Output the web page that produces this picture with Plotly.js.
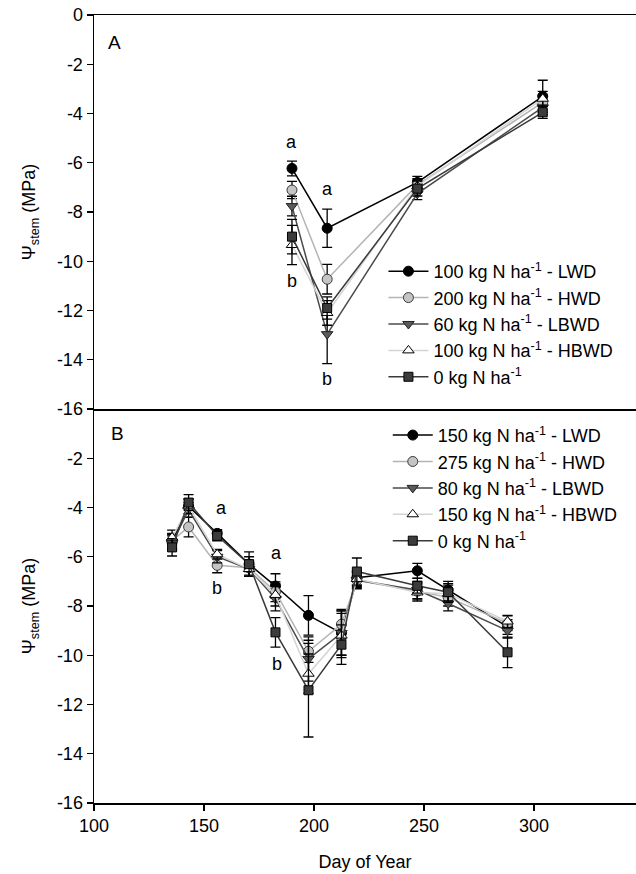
<!DOCTYPE html>
<html>
<head>
<meta charset="utf-8">
<script src="https://cdn.plot.ly/plotly-3.0.1.min.js"></script>
<style>html,body{margin:0;padding:0;background:#fff;}#chart{width:636px;height:874px;}</style>
</head>
<body>
<div id="chart"></div>
<script>
// ---------- Panel A data ----------
const daysA = [190, 206, 247, 304];
const namesA = ["100 kg N ha<sup>-1</sup> - LWD", "200 kg N ha<sup>-1</sup> - HWD", "60 kg N ha<sup>-1</sup> - LBWD", "100 kg N ha<sup>-1</sup> - HBWD", "0 kg N ha<sup>-1</sup>"];
const lwdA  = [-6.23, -8.66, -6.80, -3.30];
const hwdA  = [-7.11, -10.73, -6.90, -3.55];
const lbwdA = [-7.76, -12.96, -7.25, -3.75];
const hbwdA = [-9.34, -12.10, -6.95, -3.40];
const zeroA = [-9.00, -11.90, -7.05, -3.95];
const lwdAerr  = [0.30, 0.78, 0.25, 0.65];
const hwdAerr  = [0.35, 0.60, 0.25, 0.30];
const lbwdAerr = [0.40, 1.20, 0.25, 0.30];
const hbwdAerr = [0.80, 0.50, 0.25, 0.30];
const zeroAerr = [0.70, 0.45, 0.30, 0.25];

// ---------- Panel B data ----------
const daysB = [135.5, 143, 156, 170.5, 182.5, 197.5, 212.5, 219.5, 247, 261, 288];
const namesB = ["150 kg N ha<sup>-1</sup> - LWD", "275 kg N ha<sup>-1</sup> - HWD", "80 kg N ha<sup>-1</sup> - LBWD", "150 kg N ha<sup>-1</sup> - HBWD", "0 kg N ha<sup>-1</sup>"];
const lwdB  = [-5.40, -3.95, -5.05, -6.30, -7.19, -8.38, -9.10, -6.85, -6.57, -7.35, -8.85];
const hwdB  = [-5.35, -4.79, -6.35, -6.45, -7.42, -9.84, -8.74, -6.95, -7.40, -7.65, -8.70];
const lbwdB = [-5.45, -4.10, -6.00, -6.50, -7.70, -10.15, -9.10, -6.95, -7.35, -7.90, -9.00];
const hbwdB = [-5.22, -3.95, -5.90, -6.50, -7.55, -10.75, -9.20, -6.90, -7.45, -7.50, -8.63];
const zeroB = [-5.62, -3.80, -5.15, -6.30, -9.07, -11.42, -9.57, -6.60, -7.18, -7.44, -9.88];
const lwdBerr  = [0.30, 0.30, 0.15, 0.30, 0.50, 0.80, 0.90, 0.30, 0.30, 0.35, 0.30];
const hwdBerr  = [0.30, 0.40, 0.30, 0.30, 0.40, 0.45, 0.60, 0.30, 0.35, 0.35, 0.30];
const lbwdBerr = [0.30, 0.30, 0.25, 0.30, 0.50, 0.90, 0.90, 0.35, 0.35, 0.30, 0.30];
const hbwdBerr = [0.30, 0.30, 0.20, 0.30, 0.45, 0.80, 0.90, 0.30, 0.35, 0.35, 0.25];
const zeroBerr = [0.35, 0.32, 0.20, 0.50, 0.60, 1.90, 0.80, 0.55, 0.30, 0.35, 0.62];

// tick labels
const yTicksA = [0, -2, -4, -6, -8, -10, -12, -14, -16];
const yTicksB = [-2, -4, -6, -8, -10, -12, -14, -16];
const xTicks = [100, 150, 200, 250, 300];

// significance letters
const lettersA = [{x:190,y:-5.15,t:"a"},{x:190,y:-10.8,t:"b"},{x:206,y:-7.05,t:"a"},{x:206,y:-14.8,t:"b"}];
const lettersB = [{x:158,y:-4.0,t:"a"},{x:156,y:-7.26,t:"b"},{x:183,y:-5.85,t:"a"},{x:183,y:-10.35,t:"b"}];

// ---------- styles ----------
const styles = [
  {line:'#000000', sym:'circle', fill:'#000000', edge:'#000000'},
  {line:'#b4b4b4', sym:'circle', fill:'#c4c4c4', edge:'#3a3a3a'},
  {line:'#4a4a4a', sym:'triangle-down', fill:'#5a5a5a', edge:'#222222'},
  {line:'#d4d4d4', sym:'triangle-up', fill:'#ffffff', edge:'#000000'},
  {line:'#3a3a3a', sym:'square', fill:'#3c3c3c', edge:'#000000'}
];
const FONT = 'Liberation Sans, Arial, sans-serif';
const FS = 18;

function mk(x, y, err, name, st, xa, ya, leg) {
  return {
    type: 'scatter', mode: 'lines+markers', x: x, y: y, name: name,
    xaxis: xa, yaxis: ya, legend: leg,
    line: {color: st.line, width: 1.5},
    marker: {symbol: st.sym, size: st.sym === 'square' ? 9 : 10, color: st.fill, line: {color: st.edge, width: 1}},
    error_y: {type: 'data', array: err, visible: true, color: '#000000', thickness: 1.3, width: 5},
    cliponaxis: false
  };
}

const A = [lwdA, hwdA, lbwdA, hbwdA, zeroA];
const Ae = [lwdAerr, hwdAerr, lbwdAerr, hbwdAerr, zeroAerr];
const B = [lwdB, hwdB, lbwdB, hbwdB, zeroB];
const Be = [lwdBerr, hwdBerr, lbwdBerr, hbwdBerr, zeroBerr];

const traces = [];
for (let i = 0; i < 5; i++) traces.push(mk(daysA, A[i], Ae[i], namesA[i], styles[i], 'x2', 'y', 'legend'));
for (let i = 0; i < 5; i++) traces.push(mk(daysB, B[i], Be[i], namesB[i], styles[i], 'x', 'y2', 'legend2'));

const annotations = [];
lettersA.forEach(l => annotations.push({x:l.x, y:l.y, xref:'x2', yref:'y', text:l.t, showarrow:false, font:{family:FONT,size:FS,color:'#000'}}));
lettersB.forEach(l => annotations.push({x:l.x, y:l.y, xref:'x', yref:'y2', text:l.t, showarrow:false, font:{family:FONT,size:FS,color:'#000'}}));
annotations.push({x:109.1, y:-1.1, xref:'x2', yref:'y', text:'A', showarrow:false, font:{family:FONT,size:FS+1,color:'#000'}});
annotations.push({x:110.5, y:-0.98, xref:'x', yref:'y2', text:'B', showarrow:false, font:{family:FONT,size:FS+1,color:'#000'}});

const yTitle = {text: 'Ψ<sub>stem</sub> (MPa)', font: {family: FONT, size: FS, color: '#000'}, standoff: 16};

const layout = {
  width: 636, height: 874,
  margin: {l: 94, r: 0, t: 15, b: 70.5, pad: 0},
  paper_bgcolor: '#fff', plot_bgcolor: '#fff',
  font: {family: FONT, size: FS, color: '#000'},
  showlegend: true,
  xaxis: {
    anchor: 'y2', range: [100, 346.4], tickvals: xTicks, ticktext: xTicks.map(String),
    showgrid: false, zeroline: false, showline: true, linecolor: '#000', linewidth: 1.5,
    ticks: 'outside', ticklen: 6, tickwidth: 1.3, tickcolor: '#000',
    tickfont: {family: FONT, size: FS},
    title: {text: 'Day of Year', font: {family: FONT, size: FS}, standoff: 20}
  },
  xaxis2: {
    anchor: 'y', matches: 'x', range: [100, 346.4], showticklabels: false,
    showgrid: false, zeroline: false, showline: true, mirror: true, linecolor: '#000', linewidth: 1.5,
    ticks: ''
  },
  yaxis: {
    domain: [0.5, 1], range: [-16, 0], tickvals: yTicksA, ticktext: yTicksA.map(String),
    showgrid: false, zeroline: false, showline: true, linecolor: '#000', linewidth: 1.5,
    ticks: 'outside', ticklen: 6, tickwidth: 1.3, tickcolor: '#000',
    tickfont: {family: FONT, size: FS}, title: yTitle
  },
  yaxis2: {
    domain: [0, 0.5], range: [-16, 0], tickvals: yTicksB, ticktext: yTicksB.map(String),
    showgrid: false, zeroline: false, showline: true, linecolor: '#000', linewidth: 1.5,
    ticks: 'outside', ticklen: 6, tickwidth: 1.3, tickcolor: '#000',
    tickfont: {family: FONT, size: FS}, title: yTitle
  },
  legend: {
    x: 0.534, y: 0.698, xanchor: 'left', yanchor: 'top', bgcolor: 'rgba(0,0,0,0)',
    font: {family: FONT, size: FS}, tracegroupgap: 0, itemwidth: 40
  },
  legend2: {
    x: 0.542, y: 0.490, xanchor: 'left', yanchor: 'top', bgcolor: 'rgba(0,0,0,0)',
    font: {family: FONT, size: FS}, tracegroupgap: 0, itemwidth: 40
  },
  annotations: annotations
};

Plotly.newPlot('chart', traces, layout, {displayModeBar: false, staticPlot: true});
</script>
</body>
</html>
